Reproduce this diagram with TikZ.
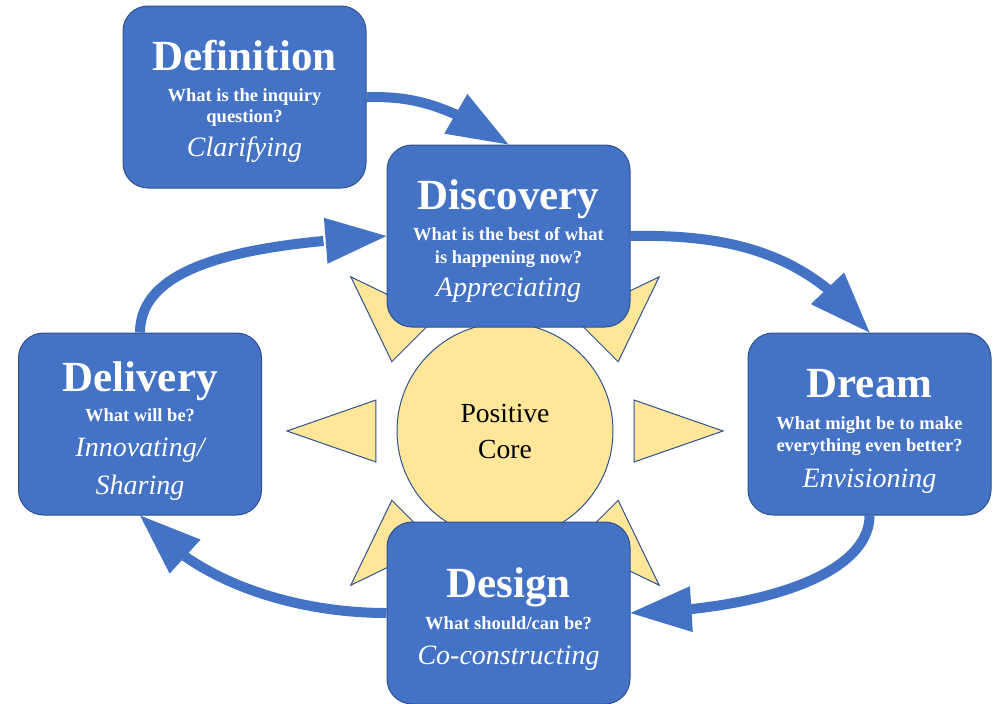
\documentclass[tikz,border=0pt]{standalone}
\usepackage{fontspec}
\setmainfont{Liberation Serif}
\usetikzlibrary{arrows.meta,bending,calc}
\definecolor{boxblue}{HTML}{4472C4}
\definecolor{edgeblue}{HTML}{2F528F}
\definecolor{sunfill}{HTML}{FFE699}
\pgfdeclarelayer{back}
\pgfsetlayers{back,main}
\begin{document}
\begin{tikzpicture}[x=1pt,y=-1pt,
  box/.style={draw=edgeblue, line width=1pt, fill=boxblue, rounded corners=25pt,
    minimum width=243pt, minimum height=182pt, inner sep=0pt},
  ttl/.style={anchor=base, text=white, inner sep=0pt, font=\fontsize{43}{48}\selectfont\bfseries},
  qst/.style={anchor=base, text=white, inner sep=0pt, font=\fontsize{18.5}{21}\selectfont\bfseries},
  act/.style={anchor=base, text=white, inner sep=0pt, font=\fontsize{28}{32}\selectfont\itshape},
  flow/.style={draw=boxblue, line width=10pt, -{Triangle[length=61pt,width=46pt,line width=0pt,flex]}},
  ray/.style={draw=edgeblue, line width=1pt, fill=sunfill, line join=miter},
  corestyle/.style={circle, draw=edgeblue, line width=1pt, fill=sunfill, minimum size=216pt,
    inner sep=0pt, align=center, font=\fontsize{27.6}{36}\selectfont}
]
\begin{pgfonlayer}{back}
\fill[white] (0,0) rectangle (1004,704);
\end{pgfonlayer}
\useasboundingbox (0,0) rectangle (1004,704);

% boxes (drawn on the main layer, above the sun and the arrows)
\node[box] (def) at (244.5,97) {};
\node[box] (dis) at (508.5,236) {};
\node[box] (drm) at (869.5,424) {};
\node[box] (des) at (508.5,613) {};
\node[box] (del) at (140,424) {};

\begin{pgfonlayer}{back}
% positive core and rays
\node[corestyle] (core) at (505,431) {Positive\\Core};
\foreach \a in {0,45,135,180,225,315}{
  \draw[ray] ($(core.center)+(\a:218)$) -- ($(core.center)+(\a+13.5:132.7)$)
     -- ($(core.center)+(\a-13.5:132.7)$) -- cycle;
}
% arrows
\draw[flow] (def.east) .. controls (400,97) and (438,97) .. (dis.north);
\draw[flow] (dis.east) .. controls (730,234) and (809,253) .. (drm.north);
\draw[flow] (drm.south) .. controls (869.5,575) and (760,610) .. (des.east);
\draw[flow] (des.west) .. controls (300,613) and (197,585) .. (del.south);
\draw[flow] (del.north) .. controls (140,255) and (280,243) .. (dis.west);
\end{pgfonlayer}

% texts
\node[ttl] (def-t) at ($(def.north)+(0,65)$) {Definition};
\node[qst] (def-q1) at ($(def.north)+(0,96)$) {What is the inquiry};
\node[qst] (def-q2) at ($(def.north)+(0,117)$) {question?};
\node[act] (def-a) at ($(def.north)+(0,151)$) {Clarifying};

\node[ttl] (dis-t) at ($(dis.north)+(0,65)$) {Discovery};
\node[qst] (dis-q1) at ($(dis.north)+(0,96)$) {What is the best of what};
\node[qst] (dis-q2) at ($(dis.north)+(0,119)$) {is happening now?};
\node[act] (dis-a) at ($(dis.north)+(0,152)$) {Appreciating};

\node[ttl] (drm-t) at ($(drm.north)+(0,65)$) {Dream};
\node[qst] (drm-q1) at ($(drm.north)+(0,97)$) {What might be to make};
\node[qst] (drm-q2) at ($(drm.north)+(0,119)$) {everything even better?};
\node[act] (drm-a) at ($(drm.north)+(0,155)$) {Envisioning};

\node[ttl] (des-t) at ($(des.north)+(0,76)$) {Design};
\node[qst] (des-q1) at ($(des.north)+(0,108)$) {What should/can be?};
\node[act] (des-a) at ($(des.north)+(0,143)$) {Co-constructing};

\node[ttl] (del-t) at ($(del.north)+(0,59)$) {Delivery};
\node[qst] (del-q1) at ($(del.north)+(0,89)$) {What will be?};
\node[act] (del-a1) at ($(del.north)+(0,124)$) {Innovating/};
\node[act] (del-a2) at ($(del.north)+(0,162)$) {Sharing};
\end{tikzpicture}
\end{document}
